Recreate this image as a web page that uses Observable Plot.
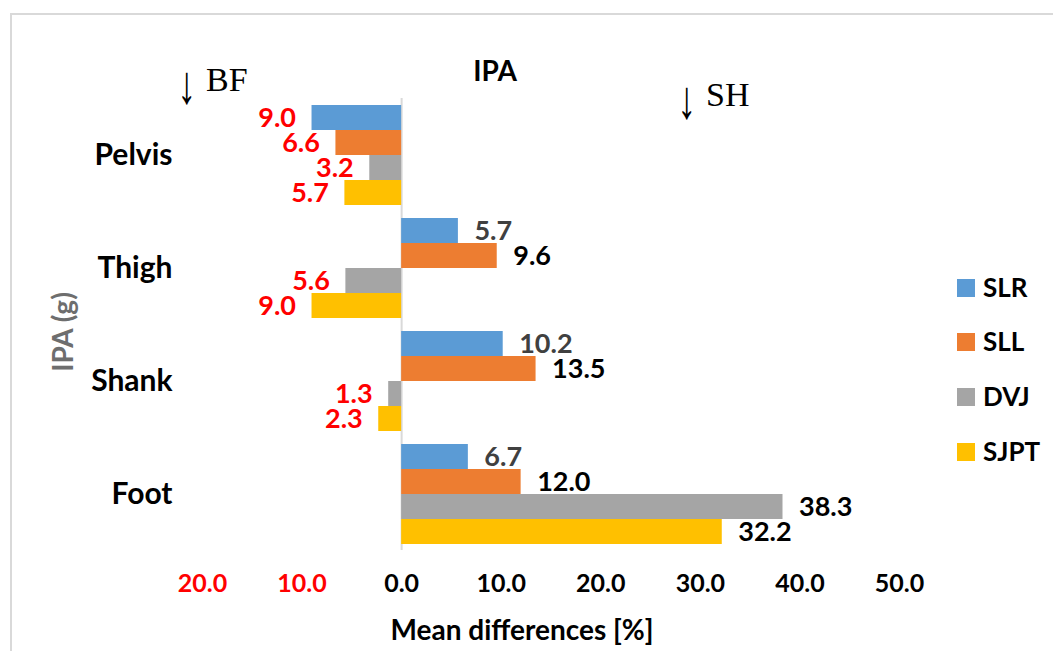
<!DOCTYPE html>
<html>
<head>
<meta charset="utf-8">
<script src="https://cdn.jsdelivr.net/npm/d3@7"></script>
<script src="https://cdn.jsdelivr.net/npm/@observablehq/plot@0.6"></script>
<style>
  html, body { margin: 0; padding: 0; background: #fff; }
  #wrap { position: relative; width: 1053px; height: 651px; overflow: hidden; font-family: Lato, sans-serif; }
  #frame { position: absolute; left: 10px; top: 13px; width: 1100px; height: 700px; border-left: 2px solid #d9d9d9; border-top: 2px solid #d9d9d9; }
  #chart { position: absolute; left: 0; top: 0; }
  .ov { position: absolute; white-space: nowrap; line-height: 1; }
  .sans { font-family: Lato, sans-serif; font-weight: bold; }
  .serif { font-family: "Liberation Serif", "DejaVu Serif", serif; }
  .arr { display: inline-block; transform: translateY(5px) scale(1.1, 1.6); margin-right: 11px; }
  .sw { position: absolute; width: 18px; height: 18px; }
</style>
</head>
<body>
<div id="wrap">
  <div id="frame"></div>
  <div id="chart"></div>
  <div class="ov sans" style="left:495px; top:56px; font-size:28px; transform:translateX(-50%);">IPA</div>
  <div class="ov serif" style="left:178px; top:63px; font-size:34px;"><span class="arr">↓</span>BF</div>
  <div class="ov serif" style="left:678px; top:78px; font-size:34px;"><span class="arr">↓</span>SH</div>
  <div class="ov sans" style="left:522px; top:615px; font-size:28px; transform:translateX(-50%);">Mean differences [%]</div>
  <div class="ov sans" style="left:62px; top:332px; font-size:28px; color:#6e6e6e; transform:translate(-50%,-50%) rotate(-90deg);">IPA (g)</div>
  <div id="legend"></div>
</div>
<script>
const categories = ["Pelvis", "Thigh", "Shank", "Foot"];
const series = ["SLR", "SLL", "DVJ", "SJPT"];
const colors = ["#5B9BD5", "#ED7D31", "#A5A5A5", "#FFC000"];
const SLR  = [-9.0, 5.7, 10.2, 6.7];
const SLL  = [-6.6, 9.6, 13.5, 12.0];
const DVJ  = [-3.2, -5.6, -1.3, 38.3];
const SJPT = [-5.7, -9.0, -2.3, 32.2];
const xTicks = [-20, -10, 0, 10, 20, 30, 40, 50];

const seriesValues = {SLR, SLL, DVJ, SJPT};
const data = categories.flatMap((c, i) =>
  series.map(s => ({category: c, series: s, value: seriesValues[s][i]}))
);

const plot = Plot.plot({
  width: 1053,
  height: 651,
  marginLeft: 202,
  marginRight: 154,
  marginTop: 97,
  marginBottom: 99,
  style: {fontFamily: "Lato, sans-serif", fontSize: "27px", fontWeight: "bold", color: "black", background: "transparent"},
  facet: {data, y: "category", label: null},
  fy: {domain: categories, paddingInner: 0.105, paddingOuter: 0.053, axis: "left", tickSize: 0, tickPadding: 30, label: null},
  y: {domain: series, padding: 0, axis: null},
  x: {domain: [-20, 50], ticks: xTicks, tickFormat: d => Math.abs(d).toFixed(1), tickSize: 0, tickPadding: 30, label: null, line: false},
  color: {domain: series, range: colors},
  marks: [
    Plot.ruleX([0], {stroke: "#d9d9d9", strokeWidth: 2, insetTop: -6, insetBottom: -6}),
    Plot.barX(data, {x: "value", y: "series", fill: "series"}),
    Plot.text(data, {
      filter: d => d.value >= 0, x: "value", y: "series",
      text: d => Math.abs(d.value).toFixed(1),
      textAnchor: "start", dx: 16,
      fill: d => d.series === "SLR" ? "#404040" : "#000000"
    }),
    Plot.text(data, {
      filter: d => d.value < 0, x: "value", y: "series",
      text: d => Math.abs(d.value).toFixed(1),
      textAnchor: "end", dx: -16, fill: "#FF0000"
    })
  ]
});
document.getElementById("chart").appendChild(plot);

// tick label colors and sizes
let xt = plot.querySelectorAll('g[aria-label="x-axis tick label"] text');
if (!xt.length) xt = plot.querySelectorAll('g[aria-label="x-axis"] text');
xt.forEach((t, i) => {
  t.style.fontSize = "25px";
  if (xTicks[i] < 0) t.setAttribute("fill", "#FF0000");
});
let ft = plot.querySelectorAll('g[aria-label="fy-axis tick label"] text');
if (!ft.length) ft = plot.querySelectorAll('g[aria-label="fy-axis"] text');
ft.forEach(t => { t.style.fontSize = "30px"; });

// legend
const legend = document.getElementById("legend");
const legendY = [288, 342, 397, 452];
series.forEach((s, i) => {
  const sw = document.createElement("div");
  sw.className = "sw";
  sw.style.left = "957px";
  sw.style.top = (legendY[i] - 9) + "px";
  sw.style.background = colors[i];
  legend.appendChild(sw);
  const lb = document.createElement("div");
  lb.className = "ov sans";
  lb.style.left = "983px";
  lb.style.top = (legendY[i] - 14) + "px";
  lb.style.fontSize = "26px";
  lb.textContent = s;
  legend.appendChild(lb);
});
</script>
</body>
</html>
